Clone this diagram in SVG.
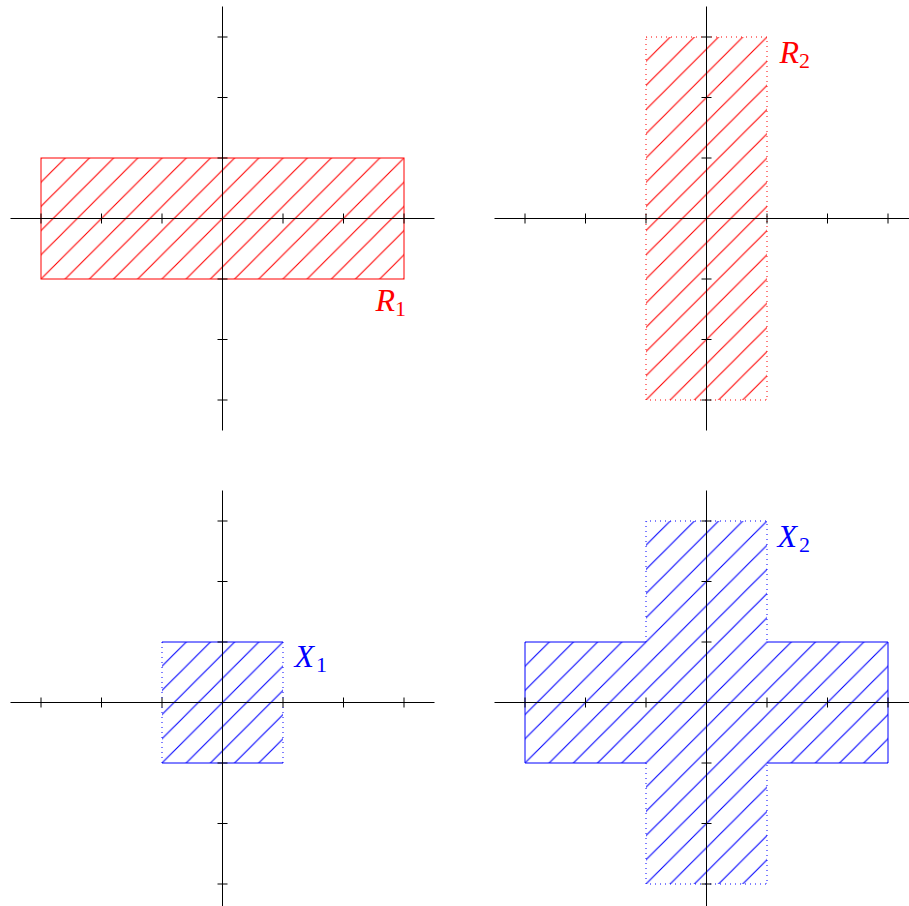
<svg xmlns="http://www.w3.org/2000/svg" width="909" height="906" viewBox="0 0 909 906">
<style>
.ax{stroke:#000;stroke-width:1;fill:none}
.red{stroke:#f00;stroke-width:1;fill:none}
.blue{stroke:#00f;stroke-width:1;fill:none}
.dot{stroke-dasharray:1 4}
.lbl{font-family:"Liberation Serif",serif;font-style:italic;font-size:32px}
.sub{font-style:normal;font-size:22px}
.r{fill:#f00}
.b{fill:#00f}
</style>
<defs>
<pattern id="hatchR" patternUnits="userSpaceOnUse" x="0" y="0" width="24.2" height="24.2">
<path d="M-2,26.2 L26.2,-2 M-2,2 L2,-2 M22.2,26.2 L26.2,22.2" stroke="#f00" stroke-width="1.1"/>
</pattern>
<pattern id="hatchB" patternUnits="userSpaceOnUse" x="0" y="0" width="24.2" height="24.2">
<path d="M-2,26.2 L26.2,-2 M-2,2 L2,-2 M22.2,26.2 L26.2,22.2" stroke="#00f" stroke-width="1.1"/>
</pattern>
<g id="axes">
<path class="ax" d="M-212,0 H212 M0,-212 V212"/>
<path class="ax" d="M-181.5,-5 V5 M-121,-5 V5 M-60.5,-5 V5 M60.5,-5 V5 M121,-5 V5 M181.5,-5 V5 M-5,-181.5 H5 M-5,-121 H5 M-5,-60.5 H5 M-5,60.5 H5 M-5,121 H5 M-5,181.5 H5"/>
</g>
</defs>

<g id="panel-R1" transform="translate(222.5,218.5)">
<rect x="-181.5" y="-60.5" width="363" height="121" class="red" style="fill:url(#hatchR)"/>
<use href="#axes"/>
<text class="lbl r" x="153" y="92">R<tspan class="sub" dy="5">1</tspan></text>
</g>

<g id="panel-R2" transform="translate(706.5,218.5)">
<rect x="-60.5" y="-181.5" width="121" height="363" fill="url(#hatchR)"/>
<rect x="-60.5" y="-181.5" width="121" height="363" class="red dot"/>
<use href="#axes"/>
<text class="lbl r" x="73" y="-156">R<tspan class="sub" dy="5">2</tspan></text>
</g>

<g id="panel-X1" transform="translate(222.5,702.5)">
<rect x="-60.5" y="-60.5" width="121" height="121" fill="url(#hatchB)"/>
<path class="blue" d="M-60.5,-60.5 H60.5 M-60.5,60.5 H60.5"/>
<path class="blue dot" d="M-60.5,-60.5 V60.5 M60.5,-60.5 V60.5"/>
<use href="#axes"/>
<text class="lbl b" x="72" y="-36">X<tspan class="sub" dx="2" dy="5">1</tspan></text>
</g>

<g id="panel-X2" transform="translate(706.5,702.5)">
<path d="M-60.5,-181.5 H60.5 V-60.5 H181.5 V60.5 H60.5 V181.5 H-60.5 V60.5 H-181.5 V-60.5 H-60.5 Z" fill="url(#hatchB)"/>
<path class="blue" d="M-60.5,-60.5 H-181.5 V60.5 H-60.5 M60.5,-60.5 H181.5 V60.5 H60.5"/>
<path class="blue dot" d="M-60.5,-60.5 V-181.5 H60.5 V-60.5 M-60.5,60.5 V181.5 H60.5 V60.5"/>
<use href="#axes"/>
<text class="lbl b" x="71" y="-156">X<tspan class="sub" dx="2" dy="5">2</tspan></text>
</g>
</svg>
